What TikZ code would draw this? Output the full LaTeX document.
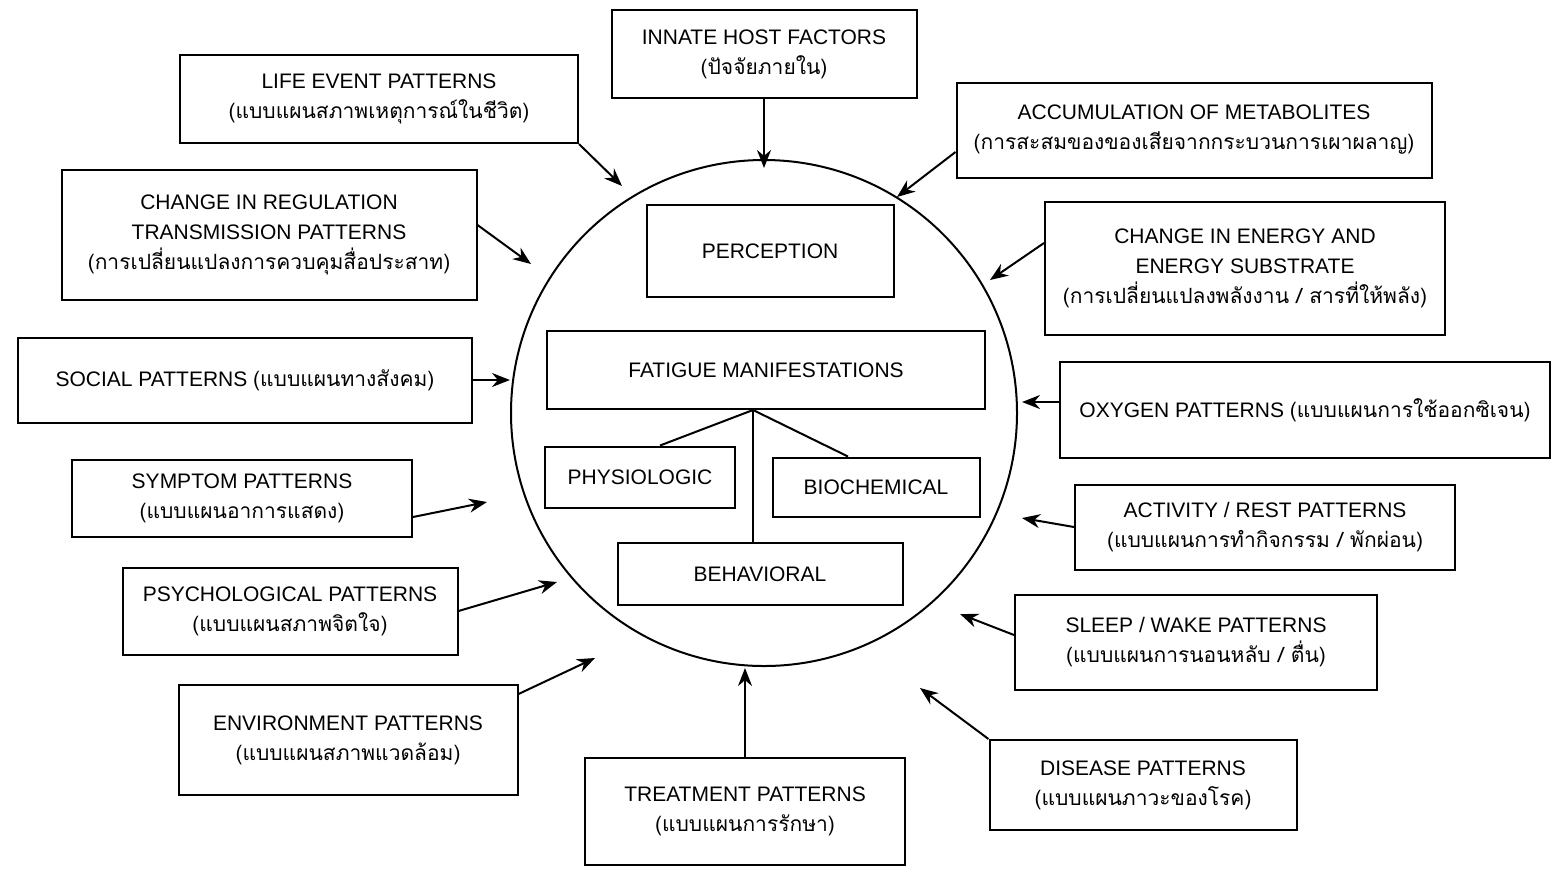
\documentclass[tikz,border=0pt]{standalone}
\usepackage{fontspec}
\setmainfont{Liberation Sans}
\newfontfamily\thaifont[Script=Thai]{Loma}
\usetikzlibrary{arrows.meta,calc}
\begin{document}
\begin{tikzpicture}[x=0.5pt,y=-0.5pt, line width=1pt,
  box/.style={draw, align=center, inner sep=2pt, font=\fontsize{10.5}{15}\selectfont},
  arr/.style={-{Stealth[length=9pt,width=7pt]}}]
\useasboundingbox (0,0) rectangle (1552,869);
% central circle
\node[draw, circle, minimum size=253pt, inner sep=0pt] (circ) at (764,413) {};
% inner boxes
\node[box, minimum width=123.5pt, minimum height=46pt] (perc) at (770,251) {PERCEPTION};
\node[box, minimum width=219pt, minimum height=39pt] (fat) at (766,370) {FATIGUE MANIFESTATIONS};
\node[box, minimum width=95pt, minimum height=30.5pt] (phys) at (640,477) {PHYSIOLOGIC};
\node[box, minimum width=103.5pt, minimum height=29.5pt] (bioc) at (876,487) {BIOCHEMICAL};
\node[box, minimum width=142.5pt, minimum height=31pt] (behv) at (760,574) {BEHAVIORAL};
\coordinate (fj) at ($(fat.south)+(-13,0)$);
\draw ($(perc.south)+(-12,0)$) -- ($(perc.south)+(-12,0)$ |- fat.north);
\draw (fj) -- ($(phys.north)+(20,0)$);
\draw (fj) -- ($(bioc.north)+(-28,0)$);
\draw (fj) -- (fj |- behv.north);
% outer boxes
\node[box, minimum width=199pt, minimum height=44pt] (life) at (379,99)
  {LIFE EVENT PATTERNS\\{\thaifont (แบบแผนสภาพเหตุการณ์ในชีวิต)}};
\node[box, minimum width=152.5pt, minimum height=44pt] (innate) at (764,54)
  {INNATE HOST FACTORS\\{\thaifont (ปัจจัยภายใน)}};
\node[box, minimum width=237.5pt, minimum height=47.5pt] (accum) at (1194,130)
  {ACCUMULATION OF METABOLITES\\{\thaifont (การสะสมของของเสียจากกระบวนการเผาผลาญ)}};
\node[box, minimum width=207.5pt, minimum height=65pt] (chreg) at (269,235)
  {CHANGE IN REGULATION\\TRANSMISSION PATTERNS\\{\thaifont (การเปลี่ยนแปลงการควบคุมสื่อประสาท)}};
\node[box, minimum width=200pt, minimum height=66.5pt] (chen) at (1245,268)
  {CHANGE IN ENERGY AND\\ENERGY SUBSTRATE\\{\thaifont (การเปลี่ยนแปลงพลังงาน / สารที่ให้พลัง)}};
\node[box, minimum width=227pt, minimum height=42.5pt] (social) at (245,380)
  {SOCIAL PATTERNS {\thaifont (แบบแผนทางสังคม)}};
\node[box, minimum width=245pt, minimum height=48pt] (oxy) at (1305,410)
  {OXYGEN PATTERNS {\thaifont (แบบแผนการใช้ออกซิเจน)}};
\node[box, minimum width=170pt, minimum height=38.5pt] (symp) at (242,498)
  {SYMPTOM PATTERNS\\{\thaifont (แบบแผนอาการแสดง)}};
\node[box, minimum width=190pt, minimum height=42.5pt] (act) at (1265,527)
  {ACTIVITY / REST PATTERNS\\{\thaifont (แบบแผนการทำกิจกรรม / พักผ่อน)}};
\node[box, minimum width=167.5pt, minimum height=43.5pt] (psy) at (290,611)
  {PSYCHOLOGICAL PATTERNS\\{\thaifont (แบบแผนสภาพจิตใจ)}};
\node[box, minimum width=181pt, minimum height=47.5pt] (sleep) at (1196,642)
  {SLEEP / WAKE PATTERNS\\{\thaifont (แบบแผนการนอนหลับ / ตื่น)}};
\node[box, minimum width=169.5pt, minimum height=55pt] (env) at (348,740)
  {ENVIRONMENT PATTERNS\\{\thaifont (แบบแผนสภาพแวดล้อม)}};
\node[box, minimum width=153.5pt, minimum height=45pt] (dis) at (1143,785)
  {DISEASE PATTERNS\\{\thaifont (แบบแผนภาวะของโรค)}};
\node[box, minimum width=160pt, minimum height=53.5pt] (treat) at (745,811)
  {TREATMENT PATTERNS\\{\thaifont (แบบแผนการรักษา)}};
% arrow tips
\coordinate (t1) at (622,186);
\coordinate (t2) at (764,168);
\coordinate (t3) at (897,197);
\coordinate (t4) at (531,264);
\coordinate (t5) at (990,280);
\coordinate (t6) at (510,380);
\coordinate (t7) at (1022,402);
\coordinate (t8) at (487,502);
\coordinate (t9) at (1022,518);
\coordinate (t10) at (557,582);
\coordinate (t11) at (960,614);
\coordinate (t12) at (595,658);
\coordinate (t13) at (920,688);
\coordinate (t14) at (745,668);
% arrows
\draw[arr] (life.south east) -- (t1);
\draw[arr] (innate.south) -- (t2);
\draw[arr] ($(accum.west)+(0,22)$) -- (t3);
\draw[arr] ($(chreg.east)+(0,-10)$) -- (t4);
\draw[arr] ($(chen.west)+(0,-25)$) -- (t5);
\draw[arr] (social.east) -- (t6);
\draw[arr] ($(oxy.west)+(0,-8)$) -- (t7);
\draw[arr] ($(symp.east)+(0,19)$) -- (t8);
\draw[arr] (act.west) -- (t9);
\draw[arr] (psy.east) -- (t10);
\draw[arr] ($(sleep.west)+(0,-7)$) -- (t11);
\draw[arr] ($(env.north east)+(0,10)$) -- (t12);
\draw[arr] (dis.north west) -- (t13);
\draw[arr] (treat.north) -- (t14);
\end{tikzpicture}
\end{document}
